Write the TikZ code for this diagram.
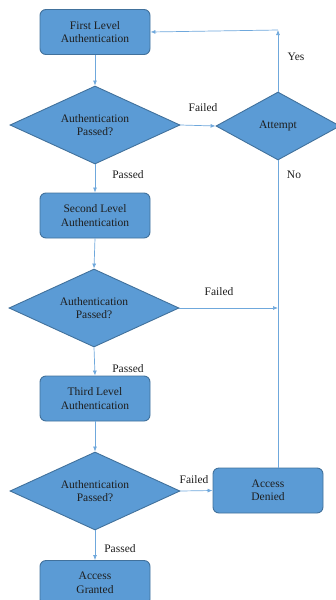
\documentclass[tikz,border=0pt]{standalone}
\usepackage{fontspec}
\setmainfont{Liberation Serif}
\usetikzlibrary{shapes.geometric,arrows.meta}
\definecolor{boxfill}{HTML}{5B9BD5}
\definecolor{boxline}{HTML}{41719C}
\definecolor{conn}{HTML}{6FA8DC}
\definecolor{txt}{HTML}{1E1E1E}
\begin{document}
\begin{tikzpicture}[x=1pt,y=-1pt,
  every node/.style={font=\fontsize{11.5}{13.5}\selectfont, text=txt},
  procbox/.style={draw=boxline, fill=boxfill, line width=0.9pt, rounded corners=6pt,
    minimum width=110pt, minimum height=45pt, align=center, inner sep=0pt},
  decis/.style={draw=boxline, fill=boxfill, line width=0.9pt, shape=diamond, aspect=2.2,
    minimum width=170pt, minimum height=78pt, align=center, inner sep=0pt},
  conline/.style={draw=conn, line width=0.7pt},
  arr/.style={conline, -{Latex[length=5pt,width=4pt]}},
  lbl/.style={inner sep=0pt}
]
\useasboundingbox (0,0) rectangle (336,600);
\clip (0,0) rectangle (336,600);
\node[procbox] (b1) at (95,32) {First Level\\Authentication};
\node[decis] (d1) at (95,125) {Authentication\\Passed?};
\node[decis, minimum width=124pt, minimum height=68pt, aspect=1.8] (att) at (278,126) {Attempt};
\node[procbox] (b2) at (95,215.5) {Second Level\\Authentication};
\node[decis] (d2) at (94,308) {Authentication\\Passed?};
\node[procbox] (b3) at (95,398.5) {Third Level\\Authentication};
\node[decis] (d3) at (95,491) {Authentication\\Passed?};
\node[procbox] (den) at (268,490.5) {Access\\Denied};
\node[procbox] (gr) at (95,583) {Access\\Granted};
\coordinate (yes) at (278,30);

\draw[arr] (b1.south) -- (d1.north);
\draw[arr] (d1.east) -- (att.west);
\draw[arr] (att.north) -- (yes);
\draw[arr] (yes) -- (b1.east);
\draw[conline] (att.south) -- (att.south |- den.north);
\draw[arr] (d1.south) -- (b2.north);
\draw[arr] (b2.south) -- (d2.north);
\draw[arr] (d2.east) -- (att.south |- d2.east);
\draw[arr] (d2.south) -- (b3.north);
\draw[arr] (b3.south) -- (d3.north);
\draw[arr] (d3.east) -- (den.west);
\draw[arr] (d3.south) -- (gr.north);

\node[lbl] (l1) at (203,108) {Failed};
\node[lbl] (l2) at (296,57) {Yes};
\node[lbl] (l3) at (294,175) {No};
\node[lbl] (l4) at (128,175) {Passed};
\node[lbl] (l5) at (219,292) {Failed};
\node[lbl] (l6) at (128,369) {Passed};
\node[lbl] (l7) at (194,480) {Failed};
\node[lbl] (l8) at (120,549) {Passed};
\end{tikzpicture}
\end{document}
